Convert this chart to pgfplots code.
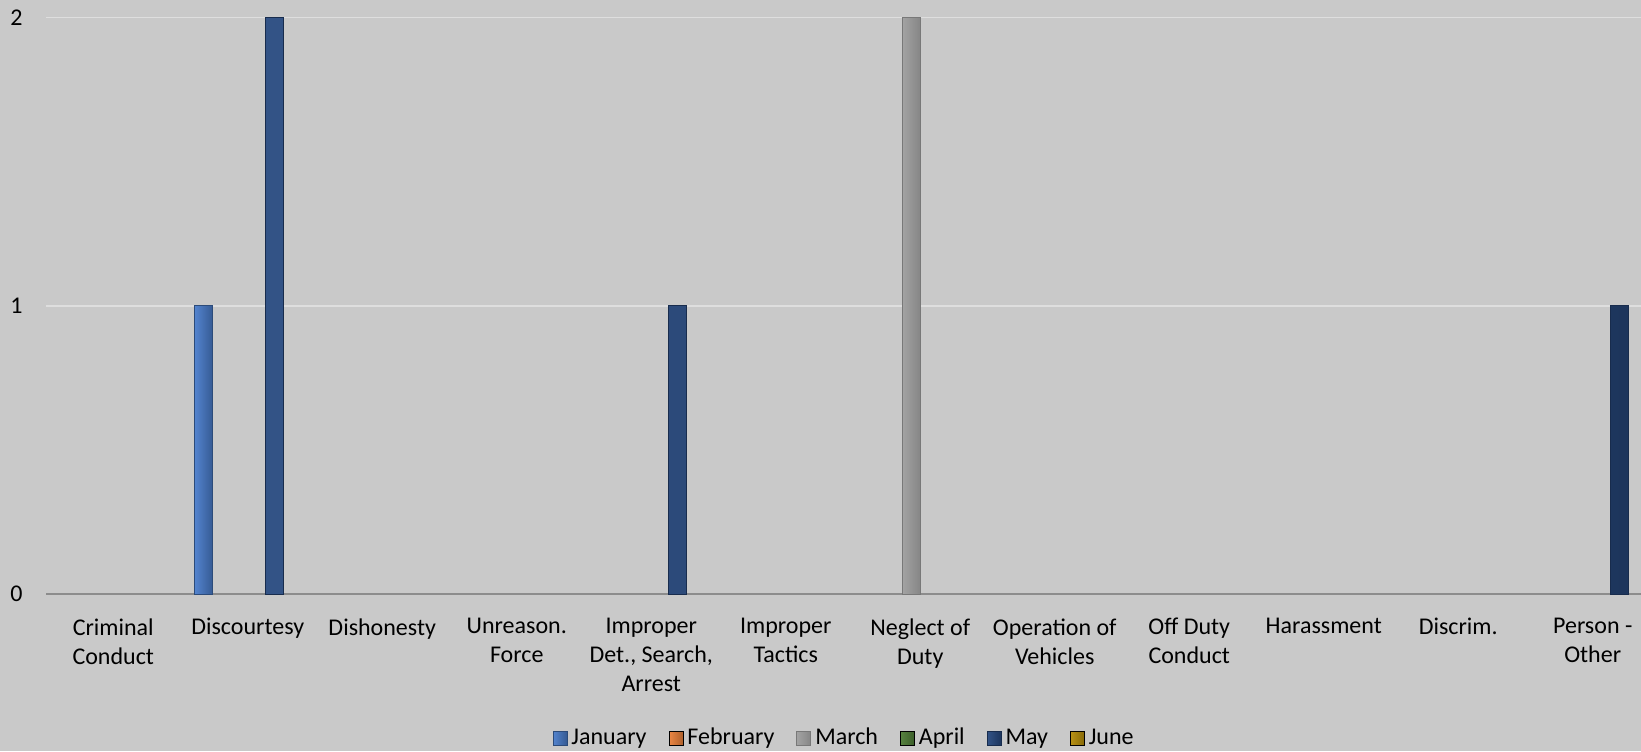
\documentclass[border=0pt]{standalone}
\usepackage{pgfplots}
\pgfplotsset{compat=1.18}
\usepackage{pgfplotstable}
\usepackage{fontspec}
\setmainfont{Carlito}
\definecolor{bg}{RGB}{201,201,201}
\definecolor{gridc}{RGB}{222,222,222}
\definecolor{axisc}{RGB}{140,140,140}
\definecolor{jan}{RGB}{74,125,204}
\definecolor{feb}{RGB}{233,128,58}
\definecolor{mar}{RGB}{171,171,171}
\definecolor{apr}{RGB}{78,124,54}
\definecolor{may}{RGB}{40,74,128}
\definecolor{jun}{RGB}{180,140,10}
\pgfplotstableread{
x jan feb mar apr may jun
0 0 0 0 0 0 0
1 1 0 0 0 2 0
2 0 0 0 0 0 0
3 0 0 0 0 0 0
4 0 0 0 0 1 0
5 0 0 0 0 0 0
6 0 0 2 0 0 0
7 0 0 0 0 0 0
8 0 0 0 0 0 0
9 0 0 0 0 0 0
10 0 0 0 0 0 0
11 0 0 0 0 1 0
}\data
\pgfplotsset{
  sqlegend/.style={legend image code/.code={\fill[##1] (0pt,-3.5pt) rectangle (7pt,3.5pt);}},
  mybar/.style={ybar, bar width=0.135, line width=0.4pt, sqlegend},
}
\begin{document}
\begin{tikzpicture}
\fill[bg] (-23pt,-78.5pt) rectangle (797.5pt,297pt);
\useasboundingbox (-23pt,-78.5pt) rectangle (797.5pt,297pt);
\begin{axis}[
  at={(0,0)}, anchor=south west,
  scale only axis, width=797.5pt, height=288.25pt,
  xmin=-0.5, xmax=11.359, ymin=0, ymax=2,
  xtick={0,...,11}, ytick={0,1,2},
  /pgf/number format/assume math mode=true,
  xticklabels={{Criminal\\Conduct},{Discourtesy},{Dishonesty},{Unreason.\\Force},{Improper\\Det., Search,\\Arrest},{Improper\\Tactics},{Neglect of\\Duty},{Operation of\\Vehicles},{Off Duty\\Conduct},{Harassment},{Discrim.},{Person -\\Other}},
  axis lines*=left,
  x axis line style={draw=axisc, line width=0.8pt},
  y axis line style={draw=none},
  major tick length=0pt,
  ymajorgrids, major grid style={draw=gridc, line width=0.8pt},
  xticklabel style={font=\fontsize{12}{14.5}\selectfont, align=center, inner sep=0pt, anchor=north, yshift=-12pt},
  yticklabel style={font=\fontsize{12}{14.5}\selectfont, inner sep=0pt, anchor=east, xshift=-11.5pt},
  y filter/.expression={y==0 ? nan : y},
  legend style={at={(0.501,-0.2498)}, anchor=center, legend columns=-1, draw=none, fill=none,
    font=\fontsize{12}{14}\selectfont, inner sep=0pt,
    /tikz/every even column/.append style={column sep=9pt}},
]
\addplot[mybar, bar shift=-0.3275, left color=jan!95!white, right color=jan!72!black, draw=jan!60!black] table[x=x,y=jan]{\data};
\addlegendentry{January}
\addlegendimage{sqlegend, left color=feb!95!white, right color=feb!75!black}
\addlegendentry{February}
\addplot[mybar, forget plot, bar shift=-0.1965, fill=feb, draw=none] table[x=x,y=feb]{\data};
\addplot[mybar, bar shift=-0.0655, left color=mar!110!white, right color=mar!78!black, draw=mar!70!black] table[x=x,y=mar]{\data};
\addlegendentry{March}
\addlegendimage{sqlegend, left color=apr!95!white, right color=apr!75!black}
\addlegendentry{April}
\addplot[mybar, forget plot, bar shift=0.0655, fill=apr, draw=none] table[x=x,y=apr]{\data};
\addplot[mybar, bar shift=0.1965, left color=may!95!white, right color=may!72!black, draw=may!60!black] table[x=x,y=may]{\data};
\addlegendentry{May}
\addlegendimage{sqlegend, left color=jun!95!white, right color=jun!75!black}
\addlegendentry{June}
\addplot[mybar, forget plot, bar shift=0.3275, fill=jun, draw=none] table[x=x,y=jun]{\data};
\end{axis}
\end{tikzpicture}
\end{document}
